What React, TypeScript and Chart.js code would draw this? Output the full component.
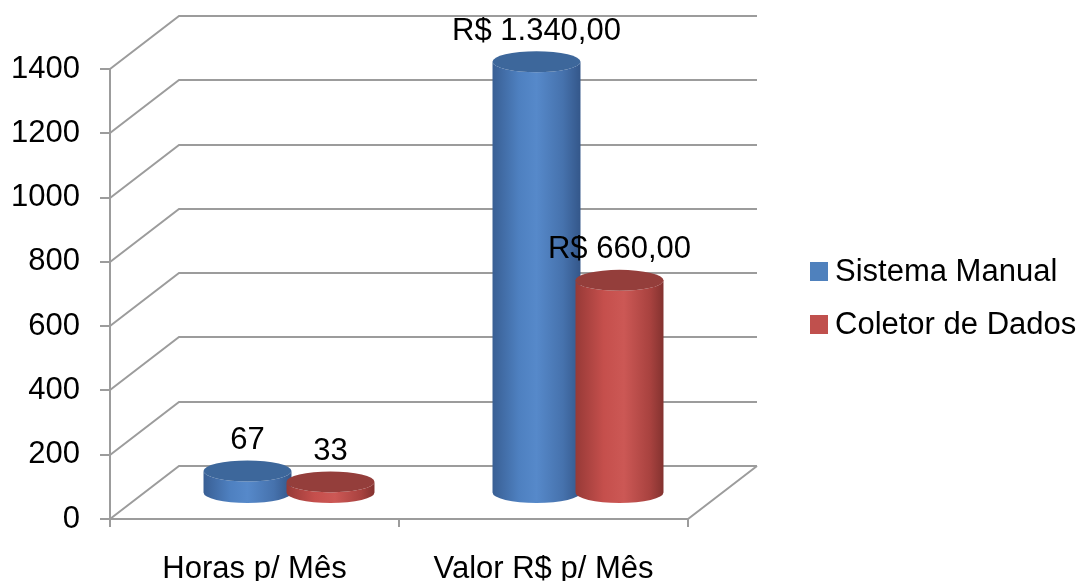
import React, { useEffect, useRef } from "react";
import { Chart, registerables } from "chart.js";

Chart.register(...registerables);

// ---- data ----
const categories = ["Horas p/ Mês", "Valor R$ p/ Mês"];
const seriesNames = ["Sistema Manual", "Coletor de Dados"];
const sistemaManual = [67, 1340];
const coletorDados = [33, 660];
const yTickValues = [0, 200, 400, 600, 800, 1000, 1200, 1400];

// ---- style ----
const FONT = '"Liberation Sans", Arial, Helvetica, sans-serif';
const FONT_SIZE = 31;
const DX = 69;
const DY = -53;
const GRID = "#9c9c9c";
const legendColors = ["#4f81bd", "#c0504d"];
const bodyStops = [
  [
    [0, "#395f94"],
    [0.3, "#4e80c0"],
    [0.5, "#5689ca"],
    [0.8, "#4672ad"],
    [1, "#34578a"],
  ],
  [
    [0, "#973a37"],
    [0.32, "#c54f4c"],
    [0.55, "#cc5855"],
    [0.85, "#a8423f"],
    [1, "#83322f"],
  ],
];
const topColors = ["#3d679b", "#943e3b"];

function formatLabel(catIndex: number, v: number): string {
  if (catIndex === 0) return String(v);
  const [intPart, dec] = v.toFixed(2).split(".");
  const withDots = intPart.replace(/\B(?=(\d{3})+(?!\d))/g, ".");
  return "R$ " + withDots + "," + dec;
}

const threeDPlugin = {
  id: "threeD",
  beforeDatasetsDraw(chart: any) {
    const { ctx, chartArea: a, scales } = chart;
    const x = scales.x;
    const y = scales.y;
    ctx.save();
    ctx.strokeStyle = GRID;
    ctx.lineWidth = 2;
    ctx.lineCap = "butt";
    for (const v of yTickValues) {
      const py = Math.round(y.getPixelForValue(v));
      ctx.beginPath();
      ctx.moveTo(a.left, py);
      ctx.lineTo(a.left + DX, py + DY);
      ctx.lineTo(a.right + DX, py + DY);
      ctx.stroke();
      ctx.beginPath();
      ctx.moveTo(a.left - 10, py);
      ctx.lineTo(a.left, py);
      ctx.stroke();
    }
    const bottom = Math.round(y.getPixelForValue(0));
    ctx.beginPath();
    ctx.moveTo(a.left, Math.round(y.getPixelForValue(1400)));
    ctx.lineTo(a.left, bottom + 8);
    ctx.stroke();
    ctx.beginPath();
    ctx.moveTo(a.left, bottom);
    ctx.lineTo(a.right, bottom);
    ctx.lineTo(a.right + DX, bottom + DY);
    ctx.stroke();
    for (let i = 0; i <= categories.length; i++) {
      const px = Math.round(x.getPixelForValue(i - 0.5));
      ctx.beginPath();
      ctx.moveTo(px, bottom);
      ctx.lineTo(px, bottom + 8);
      ctx.stroke();
    }
    ctx.restore();
  },
  afterDatasetsDraw(chart: any) {
    const { ctx } = chart;
    ctx.save();
    const labels: { x: number; y: number; t: string }[] = [];
    chart.data.datasets.forEach((ds: any, di: number) => {
      const meta = chart.getDatasetMeta(di);
      meta.data.forEach((bar: any, i: number) => {
        const cx = bar.x + DX / 2;
        const topY = bar.y + DY / 2;
        const baseY = bar.base + DY / 2;
        const rx = bar.width / 2;
        const ry = 10.5;
        const g = ctx.createLinearGradient(cx - rx, 0, cx + rx, 0);
        for (const [o, c] of bodyStops[di]) g.addColorStop(o as number, c as string);
        ctx.beginPath();
        ctx.moveTo(cx - rx, topY);
        ctx.lineTo(cx - rx, baseY);
        ctx.ellipse(cx, baseY, rx, ry, 0, Math.PI, 0, true);
        ctx.lineTo(cx + rx, topY);
        ctx.ellipse(cx, topY, rx, ry, 0, 0, Math.PI, false);
        ctx.closePath();
        ctx.fillStyle = g;
        ctx.fill();
        ctx.beginPath();
        ctx.ellipse(cx, topY, rx, ry, 0, 0, Math.PI * 2);
        ctx.fillStyle = topColors[di];
        ctx.fill();
        labels.push({ x: cx, y: topY - ry - 20, t: formatLabel(i, ds.data[i]) });
      });
    });
    ctx.fillStyle = "#000";
    ctx.font = `${FONT_SIZE}px ${FONT}`;
    ctx.textAlign = "center";
    ctx.textBaseline = "middle";
    for (const l of labels) ctx.fillText(l.t, l.x, l.y);
    ctx.restore();
  },
  afterDraw(chart: any) {
    const { ctx } = chart;
    ctx.save();
    ctx.font = `${FONT_SIZE}px ${FONT}`;
    ctx.textAlign = "left";
    ctx.textBaseline = "middle";
    seriesNames.forEach((name, i) => {
      const cy = 271 + i * 53;
      ctx.fillStyle = legendColors[i];
      ctx.fillRect(810, cy - 9, 18, 19);
      ctx.fillStyle = "#000";
      ctx.fillText(name, 835, cy + 1);
    });
    ctx.restore();
  },
};

export default function App() {
  const ref = useRef<HTMLCanvasElement | null>(null);
  useEffect(() => {
    if (!ref.current) return;
    const chart = new Chart(ref.current, {
      type: "bar",
      data: {
        labels: categories,
        datasets: [
          {
            label: seriesNames[0],
            data: sistemaManual,
            backgroundColor: "rgba(0,0,0,0)",
            borderWidth: 0,
          },
          {
            label: seriesNames[1],
            data: coletorDados,
            backgroundColor: "rgba(0,0,0,0)",
            borderWidth: 0,
          },
        ],
      },
      options: {
        responsive: false,
        animation: false,
        devicePixelRatio: 1,
        events: [],
        layout: { padding: { top: 69, right: 396, left: 0, bottom: 0 } },
        datasets: { bar: { categoryPercentage: 0.5744, barPercentage: 1.06 } },
        plugins: { legend: { display: false }, tooltip: { enabled: false } },
        scales: {
          x: {
            grid: { display: false, drawTicks: false },
            border: { display: false },
            ticks: {
              color: "#000",
              padding: 32,
              font: { family: FONT, size: FONT_SIZE },
              maxRotation: 0,
              autoSkip: false,
            },
            afterFit: (s: any) => {
              s.height = 62;
            },
          },
          y: {
            min: 0,
            max: 1400,
            grid: { display: false, drawTicks: false },
            border: { display: false },
            ticks: {
              stepSize: 200,
              color: "#000",
              padding: 30,
              font: { family: FONT, size: FONT_SIZE },
              callback: (v: any) => String(v),
            },
            afterFit: (s: any) => {
              s.width = 110;
            },
          },
        },
      },
      plugins: [threeDPlugin],
    } as any);
    return () => chart.destroy();
  }, []);
  return (
    <div style={{ position: "fixed", left: 0, top: 0, width: 1084, height: 581, background: "#fff" }}>
      <canvas ref={ref} width={1084} height={581} style={{ display: "block" }} />
    </div>
  );
}
